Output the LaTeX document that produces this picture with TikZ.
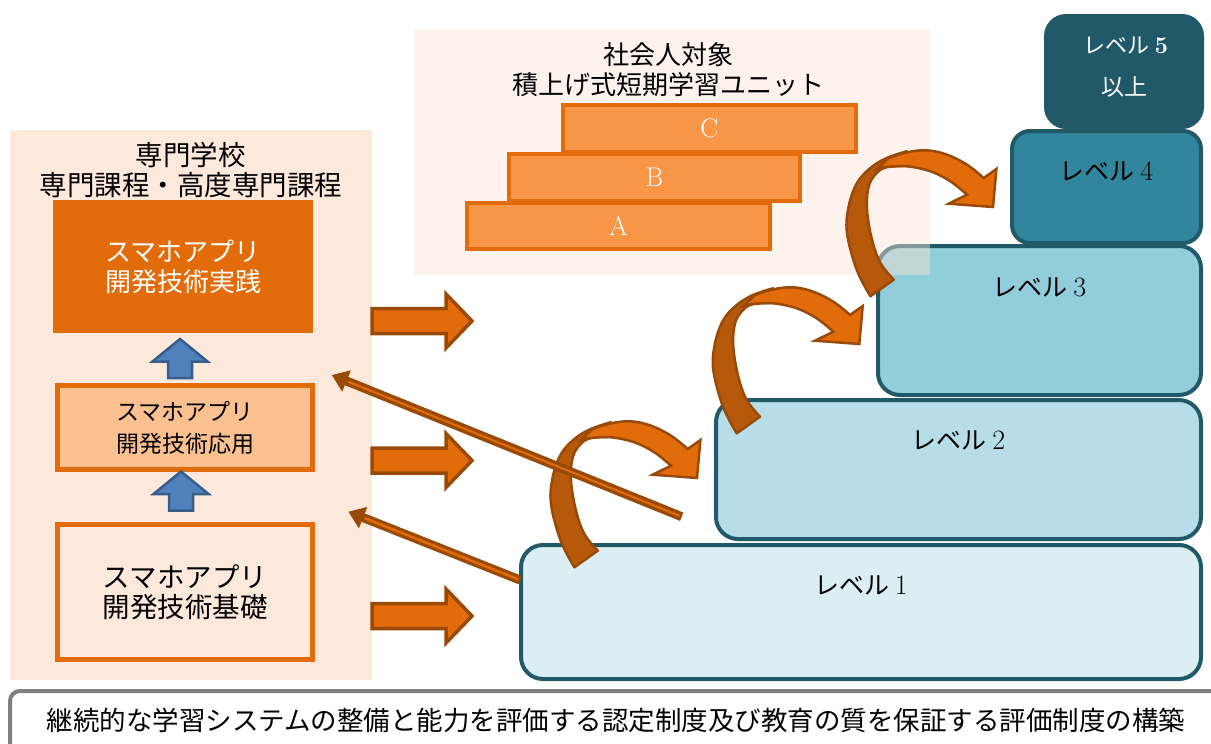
\documentclass[tikz,border=0pt]{standalone}
\usepackage{fontspec}
\newfontfamily\jp{Noto Sans CJK JP}
\usetikzlibrary{arrows.meta}
\definecolor{panelL}{HTML}{FDE9DB}
\definecolor{panelT}{HTML}{FAE4D5}
\definecolor{orgD}{HTML}{E36C0A}
\definecolor{orgM}{HTML}{F79646}
\definecolor{orgL}{HTML}{FAC090}
\definecolor{brn}{HTML}{9A4A07}
\definecolor{brnM}{HTML}{B7590A}
\definecolor{blueF}{HTML}{4F81BD}
\definecolor{blueB}{HTML}{385D8A}
\definecolor{tealE}{HTML}{215968}
\definecolor{tealD}{HTML}{31859C}
\definecolor{tealC}{HTML}{92CDDC}
\definecolor{tealB}{HTML}{B7DEE8}
\definecolor{tealA}{HTML}{DAEEF3}
\definecolor{gryB}{HTML}{7F7F7F}
\newcommand{\dg}[1]{{\rmfamily\fontsize{28}{30}\selectfont #1}}
\tikzset{
  lvl/.style={draw=tealE, line width=4pt, rounded corners=22pt, inner sep=0pt},
  lvtxt/.style={font=\jp\fontsize{25}{30}\selectfont, inner sep=0pt, anchor=center},
  unitbox/.style={fill=orgM, draw=orgD, line width=4pt, inner sep=0pt, text=white, font=\rmfamily\fontsize{27}{30}\selectfont},
  fatarrow/.style={fill=orgD, draw=brn, line width=3.5pt, line join=miter},
  bluearrow/.style={fill=blueF, draw=blueB, line width=2.5pt, line join=miter},
  curvedark/.style={fill=brnM, draw=brn, line width=2.5pt, line join=round},
  curvelight/.style={fill=orgD, draw=brn, line width=2.5pt, line join=miter},
  thinout/.style={draw=brn, line width=9pt, -{Triangle[length=16pt,width=22pt]}},
  thinin/.style={draw=orgD, line width=2pt},
  fatR/.pic={\draw[fatarrow] (0,-12.5) -- (74,-12.5) -- (74,-27) -- (100,0) -- (74,27) -- (74,12.5) -- (0,12.5) -- cycle;},
  upB/.pic={\draw[bluearrow] (0,0) -- (27.5,22.5) -- (12,22.5) -- (12,39) -- (-12,39) -- (-12,22.5) -- (-27.5,22.5) -- cycle;},
  curvA/.pic={
    \filldraw[curvedark] (-11.3,8.3) -- plot[smooth,tension=0.6] coordinates {(-11.3,8.3) (-25,-18.3) (-34.7,-55) (-33,-81.7) (-24.7,-105) (-11.3,-120) (5,-130) (25,-136.7)} -- (22,-122) -- plot[smooth,tension=0.6] coordinates {(22,-122) (5.3,-121) (-5,-115) (-13,-101.7) (-14.7,-78.3) (-9.7,-48.3) (-1.3,-25) (12,-8.3)} -- cycle;
    \filldraw[curvelight] (-4.7,-119) -- (7,-130) -- plot[smooth,tension=0.6] coordinates {(7,-130) (25.3,-135.7) (45.3,-137.7) (65.3,-133.3) (85.3,-123.3) (102,-110)} -- (114.7,-119) -- (111.3,-81) -- (67,-84.3) -- (85.3,-93.3) -- plot[smooth,tension=0.6] coordinates {(85.3,-93.3) (68.7,-106.7) (48.7,-116.7) (25.3,-121.7) (5.3,-121) (-4.7,-119)} -- cycle;
  }
}
\begin{document}
\begin{tikzpicture}[x=1pt,y=-1pt]
\useasboundingbox (0,0) rectangle (1211,744);

% left panel
\node[fill=panelL, minimum width=362pt, minimum height=550pt, inner sep=0pt] (LP) at (191,405) {};
\node[font=\jp\fontsize{27.5}{30}\selectfont, align=center, inner sep=0pt] (LPt) at (191,170) {専門学校\\専門課程・高度専門課程};
\node[fill=orgD, minimum width=260pt, minimum height=133pt, inner sep=0pt, text=white, align=center, font=\jp\fontsize{26}{30}\selectfont] (S1) at (183,266.5) {スマホアプリ\\開発技術実践};
\node[fill=orgL, draw=orgD, line width=5pt, minimum width=255pt, minimum height=84pt, inner sep=0pt, align=center, font=\jp\fontsize{23}{32}\selectfont] (S2) at (185,427.5) {スマホアプリ\\開発技術応用};
\node[fill=panelL, draw=orgD, line width=5pt, minimum width=255pt, minimum height=135pt, inner sep=0pt, align=center, font=\jp\fontsize{27.5}{30}\selectfont] (S3) at (185,592) {\raisebox{4pt}{\parbox{8em}{\centering スマホアプリ\\開発技術基礎}}};
\pic at (180,339) {upB};
\pic at (181,471.5) {upB};

% levels
\node[lvl, fill=tealE, draw=tealE, rounded corners=20pt, minimum width=156pt, minimum height=111pt] (L5) at (1124,71.5) {};
\node[lvl, fill=tealD, rounded corners=18pt, minimum width=189pt, minimum height=112pt] (L4) at (1106.5,187) {};
\node[lvl, fill=tealC, minimum width=323pt, minimum height=149pt] (L3) at (1039.5,320.5) {};
\node[lvl, fill=tealB, minimum width=485pt, minimum height=139pt] (L2) at (958.5,469.5) {};
\node[lvl, fill=tealA, minimum width=680pt, minimum height=134pt] (L1) at (861,612) {};
\node[lvtxt] at ([yshift=-42pt]L1.north) {レベル \dg{1}};
\node[lvtxt] at ([yshift=-42pt]L2.north) {レベル \dg{2}};
\node[lvtxt] at ([yshift=-43pt]L3.north) {レベル \dg{3}};
\node[lvtxt] at ([yshift=-42pt]L4.north) {レベル \dg{4}};
\node[lvtxt, text=white, font=\jp\fontsize{22}{26}\selectfont] at (1126,46) {レベル {\rmfamily\bfseries\fontsize{24}{26}\selectfont 5}};
\node[lvtxt, text=white, font=\jp\fontsize{23}{26}\selectfont] at (1124,87) {以上};

% top panel
\node[fill=panelT, fill opacity=0.45, minimum width=516pt, minimum height=245pt, inner sep=0pt] (TP) at (672,152.5) {};
\node[font=\jp\fontsize{26}{30}\selectfont, align=center, inner sep=0pt] (TPt) at (668,70) {社会人対象\\積上げ式短期学習ユニット};
\node[unitbox, minimum width=293pt, minimum height=47pt] (UC) at (709.5,128.5) {C};
\node[unitbox, minimum width=291pt, minimum height=47pt] (UB) at (654.5,177.5) {B};
\node[unitbox, minimum width=303pt, minimum height=46pt] (UA) at (618.5,226) {A};

% fat right arrows
\pic at (372,321) {fatR};
\pic at (372,460.5) {fatR};
\pic at (372,616) {fatR};

% curved arrows
\pic at (585.7,559) {curvA};
\pic at (748,425) {curvA};
\pic at (881.7,288) {curvA};

% thin return arrows
\coordinate (tA) at (681.7,516.7);
\coordinate (hA) at (331.7,375);
\coordinate (tB) at (520,580);
\coordinate (hB) at (348.3,511.7);
\draw[thinout] (tA) -- (hA);
\draw[thinin, shorten >=18pt, shorten <=2pt] (tA) -- (hA);
\draw[thinout] (tB) -- (hB);
\draw[thinin, line width=2.5pt, shorten >=18pt, shorten <=2pt] (tB) -- (hB);

% banner
\draw[draw=gryB, fill=white, line width=4pt, rounded corners=10pt] (10,691) rectangle (1240,780);
\node[font=\jp\fontsize{26.5}{30}\selectfont, inner sep=0pt] (BN) at (616,720) {継続的な学習システムの整備と能力を評価する認定制度及び教育の質を保証する評価制度の構築};
\end{tikzpicture}
\end{document}
